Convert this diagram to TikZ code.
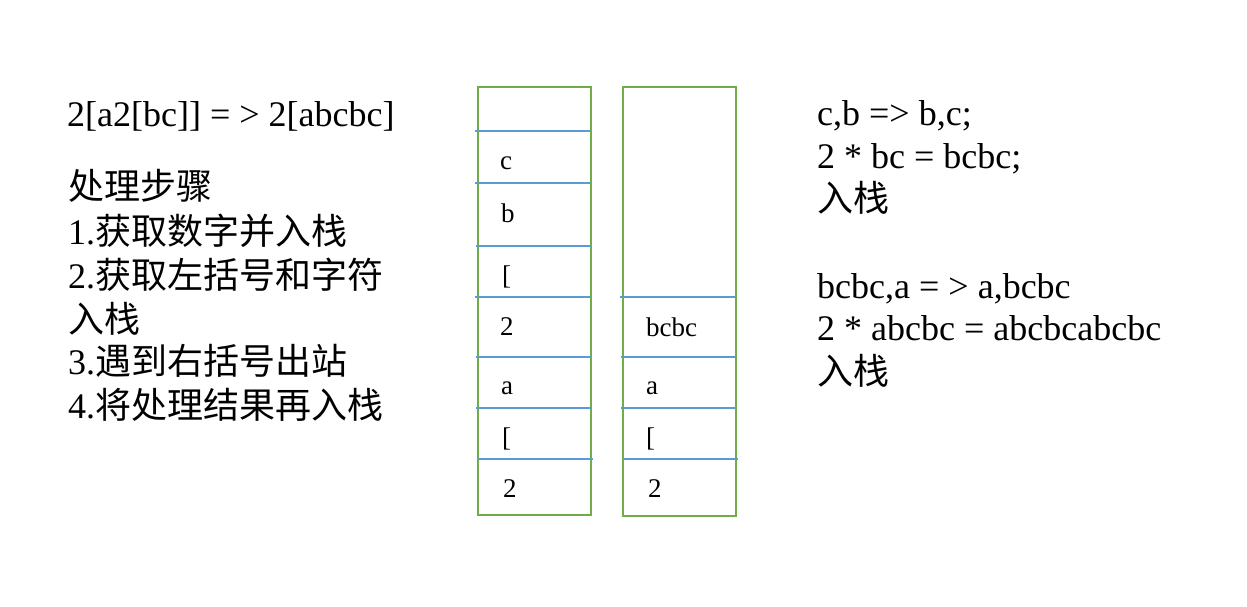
\documentclass[tikz,border=0pt]{standalone}
\usepackage{fontspec}
\setmainfont{Liberation Serif}
\newfontfamily\cjk{Noto Sans CJK SC}
\definecolor{stackgreen}{RGB}{112,173,71}
\definecolor{lineblue}{RGB}{91,155,213}
\begin{document}
\begin{tikzpicture}[x=1pt,y=-1pt,
  txt/.style={anchor=base west,inner sep=0pt,font=\fontsize{36}{42}\selectfont},
  cell/.style={anchor=west,inner sep=0pt,font=\fontsize{27}{32}\selectfont},
  stackbox/.style={draw=stackgreen,line width=2pt},
  sep/.style={draw=lineblue,line width=2pt}]
\useasboundingbox (0,0) rectangle (1247,606);
% left text
\node[txt] (t0) at (67,126) {2[a2[bc]] = > 2[abcbc]};
\node[txt] (t1) at (68,199) {\cjk 处理步骤};
\node[txt] (t2) at (68,244) {1.{\cjk 获取数字并入栈}};
\node[txt] (t3) at (68,288) {2.{\cjk 获取左括号和字符}};
\node[txt] (t4) at (68,332) {\cjk 入栈};
\node[txt] (t5) at (68,374) {3.{\cjk 遇到右括号出站}};
\node[txt] (t6) at (68,418) {4.{\cjk 将处理结果再入栈}};
% right text
\node[txt] (r0) at (817,125) {c,b => b,c;};
\node[txt] (r1) at (817,168) {2 * bc = bcbc;};
\node[txt] (r2) at (817,211) {\cjk 入栈};
\node[txt] (r3) at (817,298) {bcbc,a = > a,bcbc};
\node[txt] (r4) at (817,340) {2 * abcbc = abcbcabcbc};
\node[txt] (r5) at (817,384) {\cjk 入栈};
% stacks
\draw[stackbox] (478,87) rectangle (591,515);
\draw[stackbox] (623,87) rectangle (736,516);
\draw[sep] (475,131) -- (590,131);
\draw[sep] (475,183) -- (590,183);
\draw[sep] (476,246) -- (591,246);
\draw[sep] (475,297) -- (590,297);
\draw[sep] (476,357) -- (591,357);
\draw[sep] (476,408) -- (591,408);
\draw[sep] (477,459) -- (593,459);
\draw[sep] (620,297) -- (735,297);
\draw[sep] (621,357) -- (735,357);
\draw[sep] (621,408) -- (735,408);
\draw[sep] (623,459) -- (738,459);
% stack 1 cells
\node[cell] (a1) at (500,163) {c};
\node[cell] (a2) at (501,213) {b};
\node[cell] (a3) at (502,277) {[};
\node[cell] (a4) at (500,327) {2};
\node[cell] (a5) at (501,388) {a};
\node[cell] (a6) at (502,439) {[};
\node[cell] (a7) at (503,489) {2};
% stack 2 cells
\node[cell] (b1) at (646,327) {bcbc};
\node[cell] (b2) at (646,388) {a};
\node[cell] (b3) at (646,439) {[};
\node[cell] (b4) at (648,489) {2};
\end{tikzpicture}
\end{document}
